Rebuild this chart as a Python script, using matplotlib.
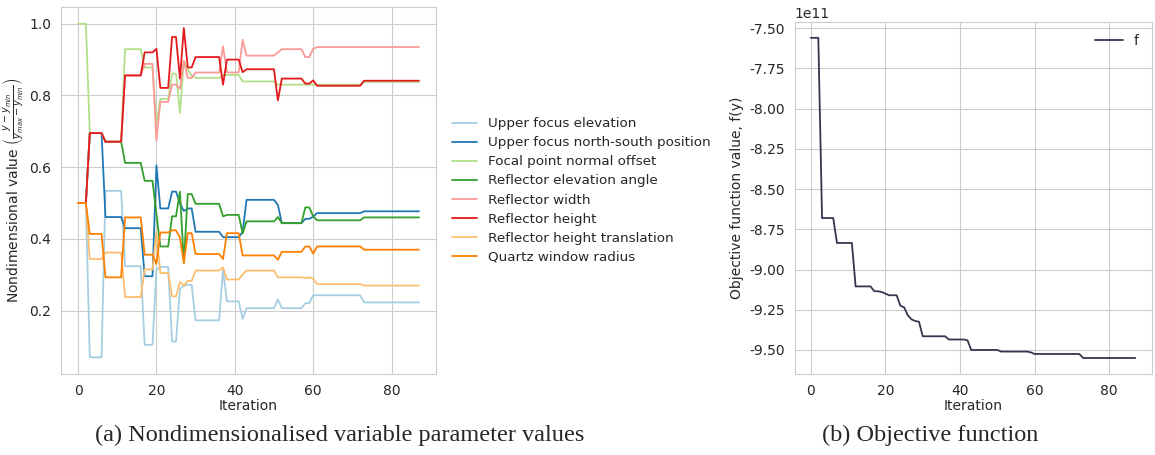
import numpy as np
import matplotlib
matplotlib.use('Agg')
import matplotlib.pyplot as plt
import seaborn as sns

# iteration index
iteration = np.arange(88)

# nondimensionalised parameter values
upper_focus_elev = [0.5, 0.5, 0.5, 0.07, 0.07, 0.07, 0.07, 0.534, 0.534, 0.534,
                    0.534, 0.534, 0.324, 0.324, 0.324, 0.324, 0.324, 0.105, 0.105, 0.105,
                    0.314, 0.322, 0.322, 0.322, 0.114, 0.114, 0.26, 0.27, 0.272, 0.272,
                    0.173, 0.173, 0.173, 0.173, 0.173, 0.173, 0.173, 0.314, 0.226, 0.226,
                    0.226, 0.226, 0.177, 0.207, 0.207, 0.207, 0.207, 0.207, 0.207, 0.207,
                    0.207, 0.232, 0.207, 0.207, 0.207, 0.207, 0.207, 0.207, 0.221, 0.221,
                    0.243, 0.243, 0.243, 0.243, 0.243, 0.243, 0.243, 0.243, 0.243, 0.243,
                    0.243, 0.243, 0.243, 0.223, 0.223, 0.223, 0.223, 0.223, 0.223, 0.223,
                    0.223, 0.223, 0.223, 0.223, 0.223, 0.223, 0.223, 0.223]
upper_focus_ns = [0.5, 0.5, 0.5, 0.695, 0.695, 0.695, 0.695, 0.461, 0.461, 0.461,
                  0.461, 0.461, 0.43, 0.43, 0.43, 0.43, 0.43, 0.296, 0.296, 0.296,
                  0.605, 0.485, 0.485, 0.485, 0.532, 0.532, 0.5, 0.478, 0.485, 0.485,
                  0.42, 0.42, 0.42, 0.42, 0.42, 0.42, 0.42, 0.405, 0.405, 0.405,
                  0.405, 0.405, 0.419, 0.509, 0.509, 0.509, 0.509, 0.509, 0.509, 0.509,
                  0.509, 0.495, 0.444, 0.444, 0.444, 0.444, 0.444, 0.444, 0.456, 0.456,
                  0.462, 0.472, 0.472, 0.472, 0.472, 0.472, 0.472, 0.472, 0.472, 0.472,
                  0.472, 0.472, 0.472, 0.477, 0.477, 0.477, 0.477, 0.477, 0.477, 0.477,
                  0.477, 0.477, 0.477, 0.477, 0.477, 0.477, 0.477, 0.477]
focal_offset = [1.0, 1.0, 1.0, 0.695, 0.695, 0.695, 0.695, 0.671, 0.671, 0.671,
                0.671, 0.671, 0.929, 0.929, 0.929, 0.929, 0.929, 0.878, 0.878, 0.878,
                0.718, 0.79, 0.79, 0.79, 0.861, 0.861, 0.751, 0.897, 0.872, 0.855,
                0.849, 0.849, 0.849, 0.849, 0.849, 0.849, 0.849, 0.857, 0.857, 0.857,
                0.857, 0.857, 0.839, 0.839, 0.839, 0.839, 0.839, 0.839, 0.839, 0.839,
                0.839, 0.83, 0.83, 0.83, 0.83, 0.83, 0.83, 0.83, 0.83, 0.83,
                0.83, 0.83, 0.83, 0.83, 0.83, 0.83, 0.83, 0.83, 0.83, 0.83,
                0.83, 0.83, 0.83, 0.838, 0.838, 0.838, 0.838, 0.838, 0.838, 0.838,
                0.838, 0.838, 0.838, 0.838, 0.838, 0.838, 0.838, 0.838]
elev_angle = [0.5, 0.5, 0.5, 0.695, 0.695, 0.695, 0.695, 0.671, 0.671, 0.671,
              0.671, 0.671, 0.612, 0.612, 0.612, 0.612, 0.612, 0.562, 0.562, 0.562,
              0.47, 0.379, 0.379, 0.379, 0.463, 0.463, 0.532, 0.333, 0.525, 0.525,
              0.498, 0.498, 0.498, 0.498, 0.498, 0.498, 0.498, 0.463, 0.467, 0.467,
              0.467, 0.467, 0.415, 0.449, 0.449, 0.449, 0.449, 0.449, 0.449, 0.449,
              0.449, 0.461, 0.444, 0.444, 0.444, 0.444, 0.444, 0.444, 0.488, 0.488,
              0.463, 0.452, 0.452, 0.452, 0.452, 0.452, 0.452, 0.452, 0.452, 0.452,
              0.452, 0.452, 0.452, 0.46, 0.46, 0.46, 0.46, 0.46, 0.46, 0.46,
              0.46, 0.46, 0.46, 0.46, 0.46, 0.46, 0.46, 0.46]
refl_width = [0.5, 0.5, 0.5, 0.695, 0.695, 0.695, 0.695, 0.671, 0.671, 0.671,
              0.671, 0.671, 0.855, 0.855, 0.855, 0.855, 0.855, 0.888, 0.888, 0.888,
              0.674, 0.782, 0.782, 0.782, 0.83, 0.83, 0.818, 0.897, 0.849, 0.849,
              0.864, 0.864, 0.864, 0.864, 0.864, 0.864, 0.864, 0.937, 0.864, 0.864,
              0.864, 0.864, 0.955, 0.911, 0.911, 0.911, 0.911, 0.911, 0.911, 0.911,
              0.911, 0.92, 0.929, 0.929, 0.929, 0.929, 0.929, 0.929, 0.907, 0.907,
              0.93, 0.935, 0.935, 0.935, 0.935, 0.935, 0.935, 0.935, 0.935, 0.935,
              0.935, 0.935, 0.935, 0.935, 0.935, 0.935, 0.935, 0.935, 0.935, 0.935,
              0.935, 0.935, 0.935, 0.935, 0.935, 0.935, 0.935, 0.935]
refl_height = [0.5, 0.5, 0.5, 0.695, 0.695, 0.695, 0.695, 0.671, 0.671, 0.671,
               0.671, 0.671, 0.856, 0.856, 0.856, 0.856, 0.856, 0.92, 0.92, 0.92,
               0.93, 0.821, 0.821, 0.821, 0.963, 0.963, 0.847, 0.988, 0.878, 0.878,
               0.907, 0.907, 0.907, 0.907, 0.907, 0.907, 0.907, 0.83, 0.9, 0.9,
               0.9, 0.9, 0.865, 0.873, 0.873, 0.873, 0.873, 0.873, 0.873, 0.873,
               0.873, 0.786, 0.847, 0.847, 0.847, 0.847, 0.847, 0.847, 0.833, 0.833,
               0.842, 0.827, 0.827, 0.827, 0.827, 0.827, 0.827, 0.827, 0.827, 0.827,
               0.827, 0.827, 0.827, 0.841, 0.841, 0.841, 0.841, 0.841, 0.841, 0.841,
               0.841, 0.841, 0.841, 0.841, 0.841, 0.841, 0.841, 0.841]
height_transl = [0.5, 0.5, 0.5, 0.344, 0.344, 0.344, 0.344, 0.362, 0.362, 0.362,
                 0.362, 0.362, 0.238, 0.238, 0.238, 0.238, 0.238, 0.315, 0.315, 0.315,
                 0.42, 0.305, 0.305, 0.305, 0.24, 0.24, 0.28, 0.27, 0.283, 0.283,
                 0.312, 0.312, 0.312, 0.312, 0.312, 0.312, 0.312, 0.321, 0.287, 0.287,
                 0.287, 0.287, 0.301, 0.312, 0.312, 0.312, 0.312, 0.312, 0.312, 0.312,
                 0.312, 0.293, 0.293, 0.293, 0.293, 0.293, 0.293, 0.293, 0.291, 0.293,
                 0.29, 0.274, 0.274, 0.274, 0.274, 0.274, 0.274, 0.274, 0.274, 0.274,
                 0.274, 0.274, 0.274, 0.27, 0.27, 0.27, 0.27, 0.27, 0.27, 0.27,
                 0.27, 0.27, 0.27, 0.27, 0.27, 0.27, 0.27, 0.27]
quartz_radius = [0.5, 0.5, 0.5, 0.414, 0.414, 0.414, 0.414, 0.293, 0.293, 0.293,
                 0.293, 0.293, 0.46, 0.46, 0.46, 0.46, 0.46, 0.356, 0.356, 0.356,
                 0.33, 0.418, 0.418, 0.418, 0.424, 0.424, 0.404, 0.333, 0.416, 0.416,
                 0.358, 0.358, 0.358, 0.358, 0.358, 0.358, 0.358, 0.344, 0.416, 0.416,
                 0.416, 0.416, 0.354, 0.354, 0.354, 0.354, 0.354, 0.354, 0.354, 0.354,
                 0.354, 0.342, 0.364, 0.364, 0.364, 0.364, 0.364, 0.364, 0.379, 0.379,
                 0.359, 0.379, 0.379, 0.379, 0.379, 0.379, 0.379, 0.379, 0.379, 0.379,
                 0.379, 0.379, 0.379, 0.37, 0.37, 0.37, 0.37, 0.37, 0.37, 0.37,
                 0.37, 0.37, 0.37, 0.37, 0.37, 0.37, 0.37, 0.37]

# objective function, in units of 1e11
objective = [-7.56, -7.56, -7.56, -8.68, -8.68, -8.68, -8.68, -8.835, -8.835, -8.835,
             -8.835, -8.835, -9.105, -9.105, -9.105, -9.105, -9.105, -9.135, -9.135, -9.14,
             -9.15, -9.16, -9.16, -9.16, -9.225, -9.235, -9.285, -9.31, -9.32, -9.325,
             -9.415, -9.415, -9.415, -9.415, -9.415, -9.415, -9.415, -9.435, -9.435, -9.435,
             -9.435, -9.435, -9.44, -9.50, -9.50, -9.50, -9.50, -9.50, -9.50, -9.50,
             -9.50, -9.51, -9.51, -9.51, -9.51, -9.51, -9.51, -9.51, -9.51, -9.515,
             -9.525, -9.525, -9.525, -9.525, -9.525, -9.525, -9.525, -9.525, -9.525, -9.525,
             -9.525, -9.525, -9.525, -9.55, -9.55, -9.55, -9.55, -9.55, -9.55, -9.55,
             -9.55, -9.55, -9.55, -9.55, -9.55, -9.55, -9.55, -9.55]

labels = ['Upper focus elevation', 'Upper focus north-south position',
          'Focal point normal offset', 'Reflector elevation angle',
          'Reflector width', 'Reflector height',
          'Reflector height translation', 'Quartz window radius']
series = [upper_focus_elev, upper_focus_ns, focal_offset, elev_angle,
          refl_width, refl_height, height_transl, quartz_radius]

sns.set_style('whitegrid')
plt.rcParams['axes.unicode_minus'] = False
colors = sns.color_palette('Paired', 8)

fig = plt.figure(figsize=(11.55, 4.55), dpi=100)
ax1 = fig.add_axes([0.0528, 0.178, 0.3247, 0.8066])
ax2 = fig.add_axes([0.688, 0.178, 0.309, 0.774])

for vals, lab, col in zip(series, labels, colors):
    ax1.plot(iteration, vals, color=col, label=lab, lw=1.3)
ax1.set_xlabel('Iteration', fontsize=10, labelpad=1)
ax1.set_ylabel(r'Nondimensional value $\left(\frac{y - y_{min}}{y_{max} - y_{min}}\right)$',
               fontsize=10, labelpad=2)
ax1.set_xticks([0, 20, 40, 60, 80])
ax1.set_yticks([0.2, 0.4, 0.6, 0.8, 1.0])
ax1.tick_params(labelsize=10)
ax1.legend(loc='center left', bbox_to_anchor=(1.01, 0.5), frameon=False, fontsize=9.7,
           handlelength=1.9, labelspacing=0.45)

ax2.plot(iteration, np.array(objective) * 1e11, color='#35354f', lw=1.3, label='f')
ax2.set_xlabel('Iteration', fontsize=10, labelpad=1)
ax2.set_ylabel('Objective function value, f(y)', fontsize=10)
ax2.set_xticks([0, 20, 40, 60, 80])
ax2.tick_params(labelsize=10)
ax2.yaxis.get_offset_text().set_fontsize(10)
ax2.legend(loc='upper right', frameon=False, fontsize=10)

fig.text(0.294, 0.03, '(a) Nondimensionalised variable parameter values',
         family='Liberation Serif', fontsize=17.5, ha='center')
fig.text(0.805, 0.03, '(b) Objective function',
         family='Liberation Serif', fontsize=17.5, ha='center')

fig.savefig('out.png', dpi=100)
